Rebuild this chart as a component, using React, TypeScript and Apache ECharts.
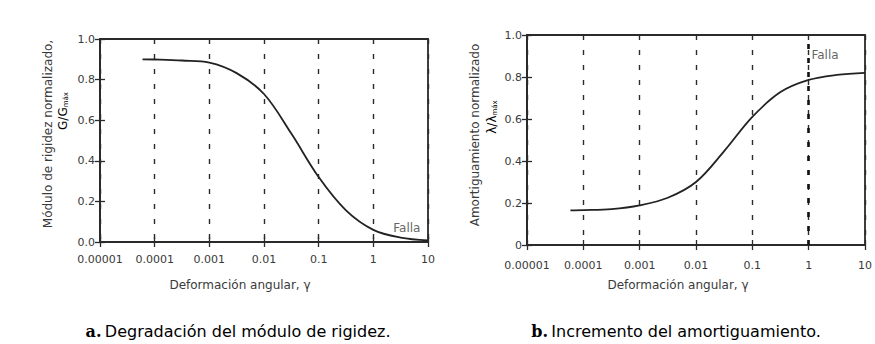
import React, { useEffect, useRef } from "react";
import * as echarts from "echarts";

// Tick labels
const xTickLabels = ["0.00001", "0.0001", "0.001", "0.01", "0.1", "1", "10"];
const yTickLabelsA = ["0.0", "0.2", "0.4", "0.6", "0.8", "1.0"];
const yTickLabelsB = ["0", "0.2", "0.4", "0.6", "0.8", "1.0"];

// a. Shear modulus degradation (G/Gmax vs strain)
const strainA = [6e-5, 1e-4, 3.16e-4, 1e-3, 3.16e-3, 1e-2, 3.16e-2, 0.1, 0.316, 1, 3.16, 10];
const modulusA = [0.9, 0.899, 0.894, 0.884, 0.832, 0.729, 0.534, 0.32, 0.156, 0.06, 0.022, 0.008];

// b. Damping increase (lambda/lambda_max vs strain)
const strainB = [5.9e-5, 1e-4, 3.16e-4, 1e-3, 3.16e-3, 1e-2, 3.16e-2, 0.1, 0.316, 1, 3.16, 10];
const dampingB = [0.165, 0.166, 0.171, 0.189, 0.225, 0.3, 0.447, 0.61, 0.728, 0.786, 0.81, 0.82];

// Failure annotations
const failureStrain = 1;
const fallaA = [4.1, 0.069];
const fallaB = [1.95, 0.905];

const FONT = "DejaVu Sans";
const AX = "#2a2a2a";
const TXT = "#3a3a3a";

export default function App() {
  const ref = useRef<HTMLDivElement>(null);
  useEffect(() => {
    if (!ref.current) return;
    const chart = echarts.init(ref.current, null, { renderer: "svg" });

    const xFmt = (v: number) => xTickLabels[Math.round(Math.log10(v)) + 5] ?? "";
    const mkX = (grid: number, main: boolean, margin: number) => ({
      gridIndex: grid,
      type: "log",
      logBase: 10,
      min: 1e-5,
      max: 10,
      position: "bottom",
      axisLine: { show: main, lineStyle: { color: AX, width: 2 } },
      axisTick: { show: true, inside: !main, length: 5, lineStyle: { color: AX, width: 1.3 } },
      axisLabel: {
        show: main,
        formatter: xFmt,
        margin,
        fontFamily: FONT,
        fontSize: 11,
        color: TXT,
      },
      splitLine: {
        show: main,
        lineStyle: { type: [5, 10], color: "#2a2a2a", width: 1.4 },
      },
      minorTick: { show: false },
      minorSplitLine: { show: false },
    });
    const mkY = (grid: number, main: boolean, labels: string[]) => ({
      gridIndex: grid,
      type: "value",
      min: 0,
      max: 1,
      interval: 0.2,
      position: "left",
      axisLine: { show: main, lineStyle: { color: AX, width: 2 } },
      axisTick: { show: true, inside: !main, length: 5, lineStyle: { color: AX, width: 1.3 } },
      axisLabel: {
        show: main,
        formatter: (v: number) => labels[Math.round(v / 0.2)] ?? "",
        margin: 5,
        fontFamily: FONT,
        fontSize: 11,
        color: TXT,
      },
      splitLine: { show: false },
    });

    const curveStyle = { color: "#222", width: 1.8 };
    const fallaLabel = {
      show: true,
      position: "inside",
      formatter: "Falla",
      fontFamily: FONT,
      fontSize: 12,
      color: TXT,
    };

    chart.setOption({
      animation: false,
      grid: [
        { left: 100, top: 39, width: 328, height: 203, show: true, borderColor: AX, borderWidth: 1.8, backgroundColor: "transparent" },
        { left: 527, top: 35, width: 339, height: 210, show: true, borderColor: AX, borderWidth: 1.8, backgroundColor: "transparent" },
      ],
      xAxis: [mkX(0, true, 12), mkX(0, false, 12), mkX(1, true, 15), mkX(1, false, 15)],
      yAxis: [mkY(0, true, yTickLabelsA), mkY(0, false, yTickLabelsA), mkY(1, true, yTickLabelsB), mkY(1, false, yTickLabelsB)],
      series: [
        {
          type: "line",
          xAxisIndex: 0,
          yAxisIndex: 0,
          data: strainA.map((x, i) => [x, modulusA[i]]),
          smooth: 0.35,
          showSymbol: false,
          lineStyle: curveStyle,
        },
        {
          type: "line",
          xAxisIndex: 2,
          yAxisIndex: 2,
          data: strainB.map((x, i) => [x, dampingB[i]]),
          smooth: 0.35,
          showSymbol: false,
          lineStyle: curveStyle,
          markLine: {
            silent: true,
            symbol: "none",
            label: { show: false },
            lineStyle: { type: [5, 9], color: "#111", width: 2.6 },
            data: [{ xAxis: failureStrain }],
          },
        },
        {
          type: "scatter",
          xAxisIndex: 0,
          yAxisIndex: 0,
          symbolSize: 1,
          itemStyle: { color: "rgba(0,0,0,0)" },
          data: [fallaA],
          label: fallaLabel,
        },
        {
          type: "scatter",
          xAxisIndex: 2,
          yAxisIndex: 2,
          symbolSize: 1,
          itemStyle: { color: "rgba(0,0,0,0)" },
          data: [fallaB],
          label: fallaLabel,
        },
      ],
      graphic: [
        {
          type: "text",
          x: 240,
          y: 285,
          style: { text: "Deformación angular, γ", font: `12px '${FONT}'`, fill: TXT, textAlign: "center", textVerticalAlign: "middle" },
        },
        {
          type: "text",
          x: 678,
          y: 285,
          style: { text: "Deformación angular, γ", font: `12px '${FONT}'`, fill: TXT, textAlign: "center", textVerticalAlign: "middle" },
        },
        {
          type: "text",
          x: 48,
          y: 134,
          rotation: Math.PI / 2,
          style: { text: "Módulo de rigidez normalizado,", font: `12px '${FONT}'`, fill: TXT, textAlign: "center", textVerticalAlign: "middle" },
        },
        {
          type: "text",
          x: 63,
          y: 111,
          rotation: Math.PI / 2,
          style: {
            text: "{n|G/G}{s|máx}",
            textAlign: "center",
            textVerticalAlign: "middle",
            rich: {
              n: { fontFamily: FONT, fontSize: 12, color: TXT, verticalAlign: "bottom" },
              s: { fontFamily: FONT, fontSize: 7, color: TXT, verticalAlign: "bottom", padding: [4, 0, 0, 0] },
            },
          },
        },
        {
          type: "text",
          x: 475,
          y: 135,
          rotation: Math.PI / 2,
          style: { text: "Amortiguamiento normalizado", font: `12px '${FONT}'`, fill: TXT, textAlign: "center", textVerticalAlign: "middle" },
        },
        {
          type: "text",
          x: 492,
          y: 117,
          rotation: Math.PI / 2,
          style: {
            text: "{n|λ/λ}{s|máx}",
            textAlign: "center",
            textVerticalAlign: "middle",
            rich: {
              n: { fontFamily: FONT, fontSize: 12, color: TXT, verticalAlign: "bottom" },
              s: { fontFamily: FONT, fontSize: 7, color: TXT, verticalAlign: "bottom", padding: [4, 0, 0, 0] },
            },
          },
        },
        {
          type: "text",
          x: 238,
          y: 331,
          style: {
            text: "{b|a.} {n|Degradación del módulo de rigidez.}",
            textAlign: "center",
            textVerticalAlign: "middle",
            rich: {
              b: { fontFamily: "DejaVu Serif", fontWeight: "bold", fontSize: 16, color: "#222" },
              n: { fontFamily: FONT, fontSize: 16, color: "#333" },
            },
          },
        },
        {
          type: "text",
          x: 676,
          y: 331,
          style: {
            text: "{b|b.} {n|Incremento del amortiguamiento.}",
            textAlign: "center",
            textVerticalAlign: "middle",
            rich: {
              b: { fontFamily: "DejaVu Serif", fontWeight: "bold", fontSize: 16, color: "#222" },
              n: { fontFamily: FONT, fontSize: 16, color: "#333" },
            },
          },
        },
      ],
    });
    return () => chart.dispose();
  }, []);
  return (
    <div
      ref={ref}
      style={{ position: "fixed", left: 0, top: 0, width: 875, height: 344, background: "#fff" }}
    />
  );
}
